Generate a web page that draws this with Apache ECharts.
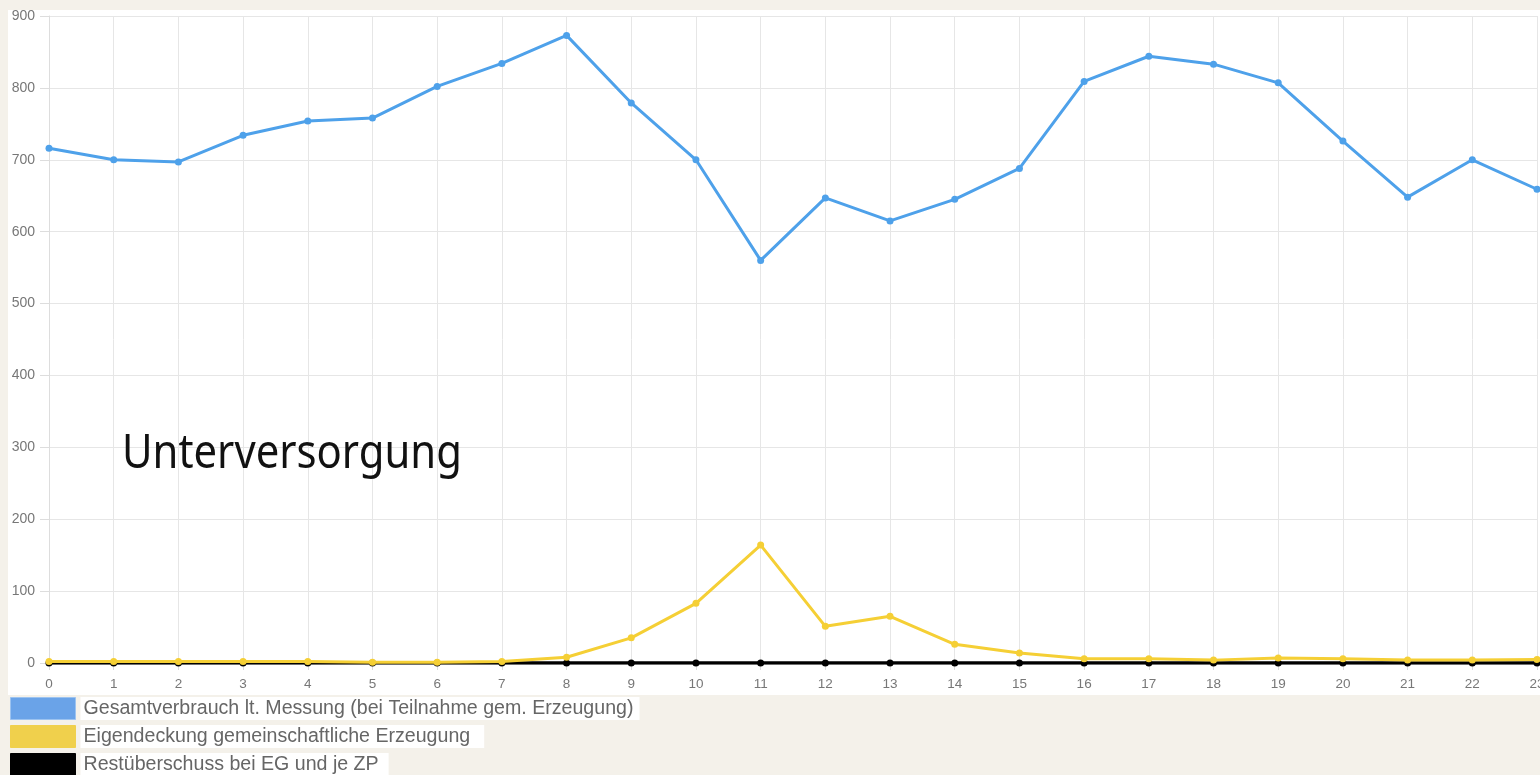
<!DOCTYPE html>
<html><head><meta charset="utf-8">
<script src="https://cdn.jsdelivr.net/npm/echarts@6/dist/echarts.min.js"></script>
<style>html,body{margin:0;padding:0;background:#f4f1ea;}#c{width:1540px;height:775px;}</style>
</head><body><div id="c"></div>
<script>
const hours = ['0','1','2','3','4','5','6','7','8','9','10','11','12','13','14','15','16','17','18','19','20','21','22','23'];
const gesamt = [716,700,697,734,754,758,802,834,873,779,700,560,647,615,645,688,809,844,833,807,726,648,700,659];
const eigen = [2,2,2,2,2,1,1,2,8,35,83,164,51,65,26,14,6,6,4,7,6,4,4,5];
const rest = [0,0,0,0,0,0,0,0,0,0,0,0,0,0,0,0,0,0,0,0,0,0,0,0];
const names = ['Gesamtverbrauch lt. Messung (bei Teilnahme gem. Erzeugung)','Eigendeckung gemeinschaftliche Erzeugung','Restüberschuss bei EG und je ZP'];
const legendColors = ['#6aa3e8','#f0d04c','#000000'];
const legendTops = [697,725,753];
const legendPadRight = [6,14,10];

function mkLegend(i){
  return {
    orient:'vertical', left:10, top:legendTops[i], padding:0, itemWidth:65, itemHeight:22,
    icon:'rect', selectedMode:false,
    textStyle:{fontSize:19.6, color:'#666', fontFamily:'Liberation Sans', backgroundColor:'#fff', padding:[2,legendPadRight[i],1,3], lineHeight:20},
    data:[{name:names[i], itemStyle:{color:legendColors[i], borderColor: i===0?'#9cc3f0':legendColors[i], borderWidth:1}}]
  };
}

const chart = echarts.init(document.getElementById('c'));
chart.setOption({
  animation:false,
  backgroundColor:'#f4f1ea',
  graphic:[
    {type:'rect', z:-10, shape:{x:8,y:10,width:1540,height:685}, style:{fill:'#ffffff'}},
    {type:'text', z:50, x:122, y:431, scaleX:0.89, style:{text:'Unterversorgung', fontSize:47, fontFamily:'Noto Sans', fill:'#111', verticalAlign:'top'}}
  ],
  grid:{left:49,right:3,top:16,bottom:112, outerBoundsMode:'none', containLabel:false},
  legend:[mkLegend(0),mkLegend(1),mkLegend(2)],
  xAxis:{type:'category', data:hours, boundaryGap:false,
    axisLine:{show:false},
    axisTick:{show:true, length:7, lineStyle:{color:'#ddd'}},
    axisLabel:{color:'#777', fontSize:13.5, margin:14, fontFamily:'Liberation Sans'},
    splitLine:{show:true, lineStyle:{color:'#e6e6e6'}}},
  yAxis:{type:'value', min:0, max:900, interval:100,
    axisLine:{show:true, lineStyle:{color:'#ddd'}},
    axisTick:{show:true, length:9, lineStyle:{color:'#ddd'}},
    axisLabel:{color:'#777', fontSize:14, margin:14, fontFamily:'Liberation Sans'},
    splitLine:{show:true, lineStyle:{color:'#e6e6e6'}}},
  series:[
    {name:names[0], type:'line', data:gesamt, color:'#4ea1ea', lineStyle:{width:3}, symbol:'circle', symbolSize:7, z:3},
    {name:names[2], type:'line', data:rest, color:'#000', lineStyle:{width:3.5}, symbol:'circle', symbolSize:7, z:2},
    {name:names[1], type:'line', data:eigen, color:'#f5cf35', lineStyle:{width:3}, symbol:'circle', symbolSize:7, z:4}
  ]
});
</script></body></html>
